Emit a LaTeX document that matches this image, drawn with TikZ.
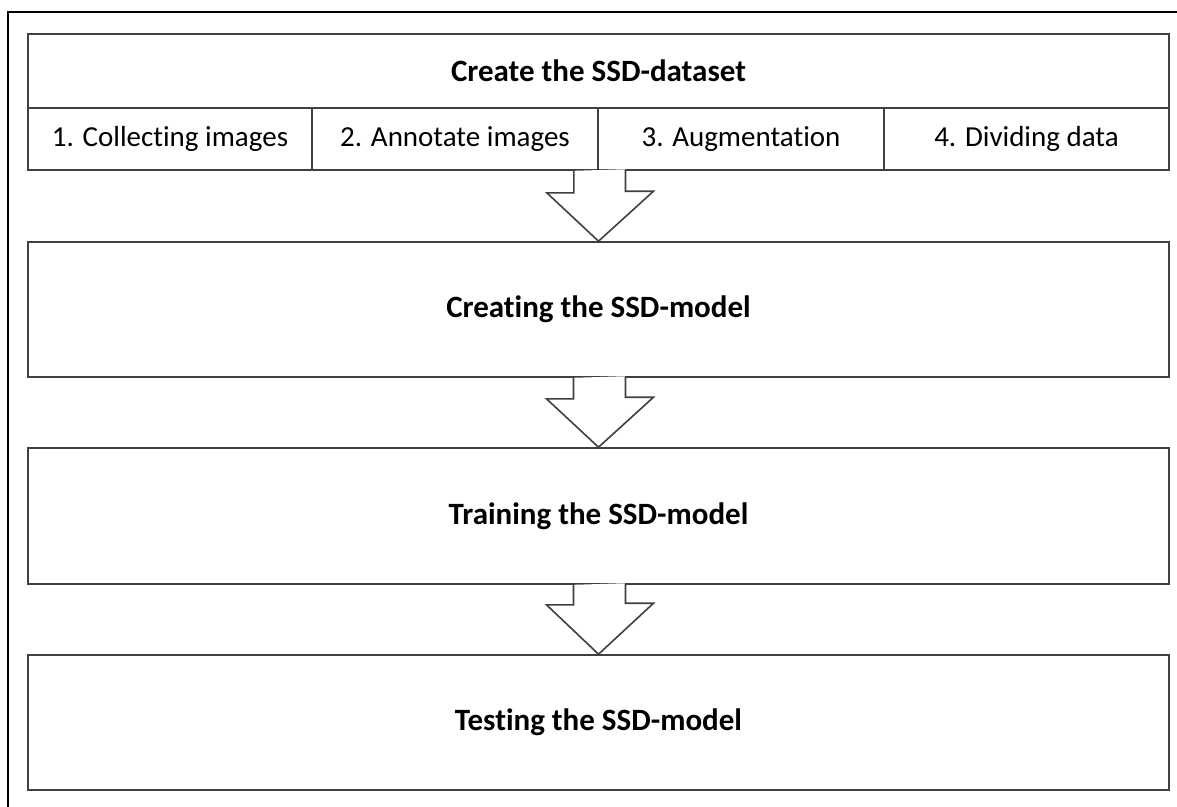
\documentclass[tikz,border=0pt]{standalone}
\usepackage{fontspec}
\setmainfont{Carlito}[Ligatures=NoCommon]
\usetikzlibrary{calc}
\definecolor{boxline}{HTML}{404040}
\tikzset{
  box/.style={draw=boxline, line width=1.6pt, rectangle, inner sep=0pt, minimum width=1141pt, font=\fontsize{31}{36}\selectfont\bfseries},
  cell/.style={draw=boxline, line width=1.6pt, rectangle, inner sep=0pt, minimum height=62pt, font=\fontsize{29}{34}\selectfont},
  blockarrow/.style={draw=boxline, line width=1.6pt, fill=white, line join=miter},
  frame/.style={draw=black, line width=1.6pt}
}
\begin{document}
\begin{tikzpicture}[x=1pt,y=-1pt]
\useasboundingbox (0,0) rectangle (1177,806);
\fill[white] (0,0) rectangle (1177,806);
% outer frame (only left and top visible)
\coordinate (fbl) at (8,810);
\coordinate (ftl) at (8,12);
\coordinate (ftr) at (1180,12);
\draw[frame] (fbl) -- (ftl) -- (ftr);
% dataset block
\node[box, minimum height=74pt] (title) at (598.5,71) {Create the SSD-dataset};
\node[cell, minimum width=284pt] (c1) at (170,139) {1. Collecting images};
\node[cell, minimum width=286pt] (c2) at (455,139) {2. Annotate images};
\node[cell, minimum width=286pt] (c3) at (741,139) {3. Augmentation};
\node[cell, minimum width=285pt] (c4) at (1026.5,139) {4. Dividing data};
% model blocks
\node[box, minimum height=135pt] (create) at (598.5,309.5) {Creating the SSD-model};
\node[box, minimum height=136pt] (train) at (598.5,516) {Training the SSD-model};
\node[box, minimum height=135pt] (test) at (598.5,722.5) {Testing the SSD-model};
% block arrows
\draw[blockarrow] ($(c2.south east)+(-25,0)$) -- ++(0,22) -- ++(-27,0) -- (create.north) -- ++(55,-50) -- ++(-28,0) -- ++(0,-22);
\draw[blockarrow] ($(create.south)+(-25,0)$) -- ++(0,21) -- ++(-27,0) -- (train.north) -- ++(55,-50) -- ++(-28,0) -- ++(0,-21);
\draw[blockarrow] ($(train.south)+(-25,0)$) -- ++(0,20) -- ++(-27,0) -- (test.north) -- ++(55,-51) -- ++(-28,0) -- ++(0,-20);
\end{tikzpicture}
\end{document}
